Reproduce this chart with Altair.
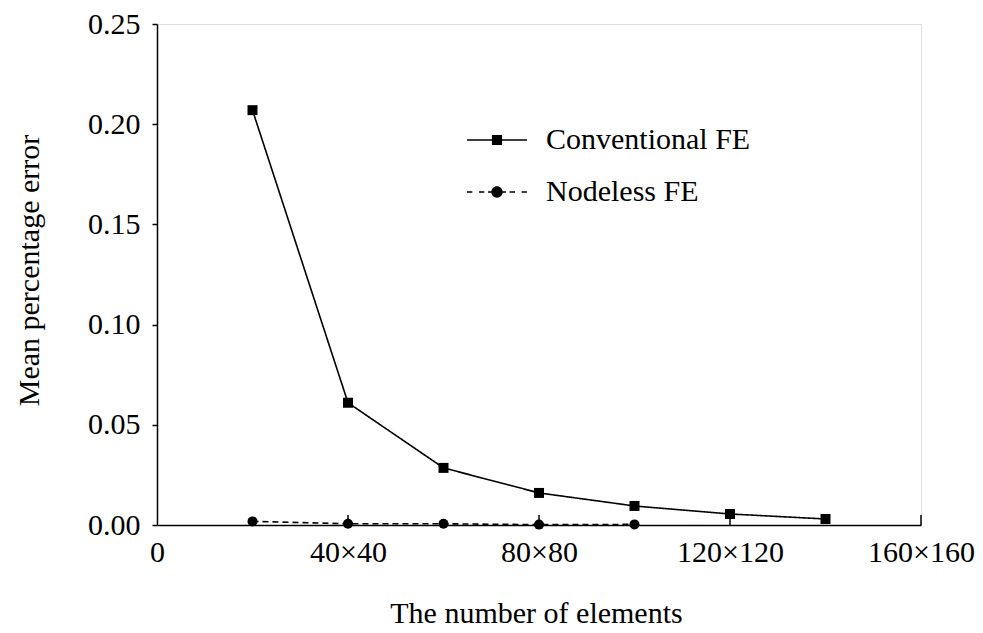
import altair as alt
import pandas as pd

# Mesh sizes (N for an N x N mesh) and mean percentage error of each method
elements = [20, 40, 60, 80, 100, 120, 140]
conventional_fe = [0.207, 0.061, 0.0285, 0.016, 0.0095, 0.0055, 0.003]
nodeless_elements = [20, 40, 60, 80, 100]
nodeless_fe = [0.0018, 0.0006, 0.0006, 0.0002, 0.0003]
series_names = ["Conventional FE", "Nodeless FE"]

x_ticks = [0, 40, 80, 120, 160]
x_tick_labels = ["0", "40×40", "80×80", "120×120", "160×160"]
y_ticks = [0.00, 0.05, 0.10, 0.15, 0.20, 0.25]

df = pd.concat(
    [
        pd.DataFrame({"n": elements, "err": conventional_fe, "method": series_names[0]}),
        pd.DataFrame({"n": nodeless_elements, "err": nodeless_fe, "method": series_names[1]}),
    ],
    ignore_index=True,
)
ticks_df = pd.DataFrame({"n": x_ticks[1:]})

FONT = "Liberation Serif"
FS = 30
W, H = 764, 501

label_map = "{" + ",".join(f"{v}:'{t}'" for v, t in zip(x_ticks, x_tick_labels)) + "}"

x_scale = alt.Scale(domain=[0, 160], nice=False, zero=True)
y_scale = alt.Scale(domain=[0, 0.25], nice=False)

x_enc = alt.X(
    "n:Q",
    scale=x_scale,
    axis=alt.Axis(
        values=x_ticks,
        labelExpr=f"{label_map}[datum.value]",
        labelFlush=False,
        ticks=False,
        labelPadding=12,
        labelFontSize=FS,
        title="The number of elements",
        titleFontSize=FS,
        titleFontWeight="normal",
        titleX=379,
        titleY=88,
        titleBaseline="middle",
        titleAlign="center",
    ),
)
y_enc = alt.Y(
    "err:Q",
    scale=y_scale,
    axis=alt.Axis(
        values=y_ticks,
        format=".2f",
        tickSize=5,
        labelPadding=12,
        labelFontSize=FS,
        title="Mean percentage error",
        titleFontSize=FS,
        titleFontWeight="normal",
        titleAngle=-90,
        titleX=-128,
        titleY=246,
        titleBaseline="middle",
        titleAlign="center",
    ),
)

lines = (
    alt.Chart(df)
    .mark_line(color="black", strokeWidth=1.6)
    .encode(
        x=x_enc,
        y=y_enc,
        strokeDash=alt.StrokeDash(
            "method:N",
            scale=alt.Scale(domain=series_names, range=[[1, 0], [6, 4]]),
            legend=None,
        ),
        detail="method:N",
    )
)

points = (
    alt.Chart(df)
    .mark_point(filled=True, color="black", opacity=1, size=100)
    .encode(
        x="n:Q",
        y="err:Q",
        shape=alt.Shape(
            "method:N",
            scale=alt.Scale(domain=series_names, range=["square", "circle"]),
            legend=None,
        ),
    )
)

# Legend glyphs: filled line segment (solid or dashed) with the series marker in the middle
conv_glyph = (
    "M-1,-0.027L1,-0.027L1,0.027L-1,0.027Z"
    "M-0.17,-0.17L0.17,-0.17L0.17,0.17L-0.17,0.17Z"
)
nodeless_glyph = (
    "M-1,-0.022L-0.82,-0.022L-0.82,0.022L-1,0.022Z"
    "M-0.6,-0.022L-0.42,-0.022L-0.42,0.022L-0.6,0.022Z"
    "M0.42,-0.022L0.6,-0.022L0.6,0.022L0.42,0.022Z"
    "M0.82,-0.022L1,-0.022L1,0.022L0.82,0.022Z"
    "M-0.3,-0.022L0.3,-0.022L0.3,0.022L-0.3,0.022Z"
    "M0.19,0A0.19,0.19,0,1,1,-0.19,0A0.19,0.19,0,1,1,0.19,0Z"
)

legend_layer = (
    alt.Chart(df)
    .mark_point(filled=True, color="black", opacity=0)
    .encode(
        x="n:Q",
        y="err:Q",
        shape=alt.Shape(
            "method:N",
            scale=alt.Scale(domain=series_names, range=[conv_glyph, nodeless_glyph]),
            legend=alt.Legend(
                title=None,
                orient="none",
                legendX=309,
                legendY=85,
                symbolSize=3600,
                symbolOpacity=1,
                symbolFillColor="black",
                labelFont=FONT,
                labelFontSize=FS,
                labelColor="black",
                labelOffset=18,
                labelLimit=400,
                rowPadding=6,
            ),
        ),
    )
)

tick_marks = (
    alt.Chart(ticks_df)
    .mark_rule(color="black", strokeWidth=1.5)
    .encode(x=alt.X("n:Q"), y=alt.value(H), y2=alt.value(H - 10))
)

chart = (
    alt.layer(lines, points, legend_layer, tick_marks)
    .resolve_scale(shape="independent")
    .properties(
        width=W,
        height=H,
        autosize=alt.AutoSizeParams(type="none"),
        padding={"left": 157, "top": 24, "right": 62, "bottom": 108},
        background="white",
    )
    .configure_view(stroke=None)
    .configure(font=FONT)
    .configure_axis(
        grid=False,
        domainColor="black",
        domainWidth=1.5,
        tickColor="black",
        tickWidth=1.5,
        labelColor="black",
        titleColor="black",
        labelFont=FONT,
        titleFont=FONT,
    )
)

chart.save("out.html", embed_options={"renderer": "svg", "actions": False})
